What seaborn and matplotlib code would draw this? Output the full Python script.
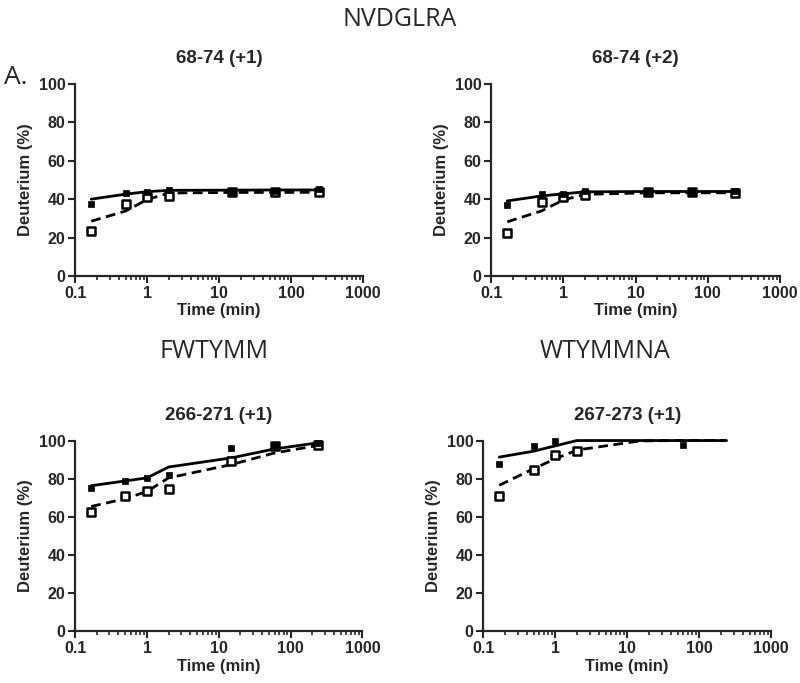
import numpy as np
import pandas as pd
import seaborn as sns
import matplotlib.pyplot as plt
from matplotlib import font_manager
from matplotlib.ticker import LogLocator, NullFormatter, FixedLocator, FixedFormatter

sns.set_style("ticks")
names = {f.name for f in font_manager.fontManager.ttflist}
label_font = "Liberation Sans Narrow" if "Liberation Sans Narrow" in names else "Liberation Sans"
plt.rcParams['font.family'] = [label_font, 'DejaVu Sans']

# exchange times (min)
times = [0.167, 0.5, 1, 2, 15, 60, 240]

# 68-74 (+1)
p1_filled = [37.5, 43.4, 43.9, 44.8, 43.9, 44.0, 45.5]
p1_open = [23.2, 37.5, 41.3, 41.8, 43.6, 43.8, 43.6]
p1_fit_solid = [40.0, 42.6, 43.9, 44.6, 44.7, 44.8, 44.8]
p1_fit_dash = [28.5, 33.8, 39.8, 43.2, 43.5, 43.5, 43.6]

# 68-74 (+2)
p2_filled = [36.9, 42.9, 42.9, 44.0, 43.8, 43.8, 44.2]
p2_open = [22.6, 38.3, 40.9, 42.1, 43.5, 43.5, 43.0]
p2_fit_solid = [39.1, 41.7, 42.8, 43.8, 44.0, 44.0, 44.0]
p2_fit_dash = [28.2, 33.9, 39.6, 42.5, 43.3, 43.3, 43.3]

# 266-271 (+1)
p3_filled = [75.1, 78.9, 80.4, 82.1, 96.1, 97.0, 98.8]
p3_open = [62.3, 71.0, 73.3, 74.6, 89.1, 97.0, 97.9]
p3_fit_solid = [76.3, 78.8, 80.4, 86.1, 90.9, 95.6, 98.8]
p3_fit_dash = [65.4, 69.5, 73.3, 80.4, 87.4, 93.5, 97.4]

# 267-273 (+1)
p4_filled = [87.8, 96.9, 99.5, np.nan, np.nan, 97.8, np.nan]
p4_open = [71.0, 84.7, 92.5, 94.4, np.nan, np.nan, np.nan]
p4_fit_solid = [91.3, 94.4, 97.2, 100.0, 100.0, 100.0, 100.0]
p4_fit_dash = [76.5, 85.2, 90.4, 95.0, 99.8, 100.0, 100.0]

panels = [
    ("68-74 (+1)", p1_filled, p1_open, p1_fit_solid, p1_fit_dash),
    ("68-74 (+2)", p2_filled, p2_open, p2_fit_solid, p2_fit_dash),
    ("266-271 (+1)", p3_filled, p3_open, p3_fit_solid, p3_fit_dash),
    ("267-273 (+1)", p4_filled, p4_open, p4_fit_solid, p4_fit_dash),
]

positions = [
    [0.094, 0.596, 0.360, 0.281],
    [0.614, 0.596, 0.361, 0.281],
    [0.094, 0.076, 0.359, 0.279],
    [0.604, 0.076, 0.360, 0.279],
]

fig = plt.figure(figsize=(8, 6.83), dpi=100)

for pos, (title, filled, opn, fit_s, fit_d) in zip(positions, panels):
    ax = fig.add_axes(pos)
    df = pd.DataFrame({"Time": times, "filled": filled, "open": opn,
                       "fit_solid": fit_s, "fit_dash": fit_d})
    sns.lineplot(data=df, x="Time", y="fit_dash", ax=ax, color="black",
                 linewidth=2.0, linestyle=(0, (3.5, 2)), zorder=2)
    sns.lineplot(data=df, x="Time", y="fit_solid", ax=ax, color="black",
                 linewidth=2.0, zorder=3)
    sns.scatterplot(data=df, x="Time", y="open", ax=ax, marker="s", s=36,
                    facecolor="white", edgecolor="black", linewidth=1.8, zorder=4)
    sns.scatterplot(data=df, x="Time", y="filled", ax=ax, marker="s", s=22,
                    color="black", edgecolor="black", linewidth=0.5, zorder=5)

    ax.set_xscale("log")
    ax.set_xlim(0.1, 1000)
    ax.set_ylim(0, 100)
    ax.xaxis.set_major_locator(FixedLocator([0.1, 1, 10, 100, 1000]))
    ax.xaxis.set_major_formatter(FixedFormatter(["0.1", "1", "10", "100", "1000"]))
    ax.xaxis.set_minor_locator(LogLocator(base=10, subs=np.arange(2, 10)))
    ax.xaxis.set_minor_formatter(NullFormatter())
    ax.set_yticks([0, 20, 40, 60, 80, 100])
    for s in ["left", "bottom"]:
        ax.spines[s].set_linewidth(1.6)
    sns.despine(ax=ax)
    ax.tick_params(which="major", length=5, width=1.5, labelsize=11.5, pad=2)
    ax.tick_params(axis="x", which="minor", length=3, width=1.2)
    for lab in ax.get_xticklabels() + ax.get_yticklabels():
        lab.set_fontweight("bold")
    ax.set_xlabel("Time (min)", fontsize=12, fontweight="bold", labelpad=2,
                  family=["Liberation Sans", "DejaVu Sans"])
    ax.set_ylabel("Deuterium (%)", fontsize=12, fontweight="bold", labelpad=4,
                  family=["Liberation Sans", "DejaVu Sans"])
    ax.set_title(title, fontsize=13.5, fontweight="bold", pad=15)
    for art in ax.lines + ax.collections:
        art.set_clip_on(False)

fig.text(0.5, 0.972, "NVDGLRA", ha="center", va="center", fontsize=18,
         family=["Open Sans", "DejaVu Sans"])
fig.text(0.268, 0.485, "FWTYMM", ha="center", va="center", fontsize=18,
         family=["Open Sans", "DejaVu Sans"])
fig.text(0.756, 0.485, "WTYMMNA", ha="center", va="center", fontsize=18,
         family=["Open Sans", "DejaVu Sans"])
fig.text(0.005, 0.886, "A.", ha="left", va="center", fontsize=19,
         family=["Open Sans", "DejaVu Sans"])

fig.savefig("out.png", dpi=100)
